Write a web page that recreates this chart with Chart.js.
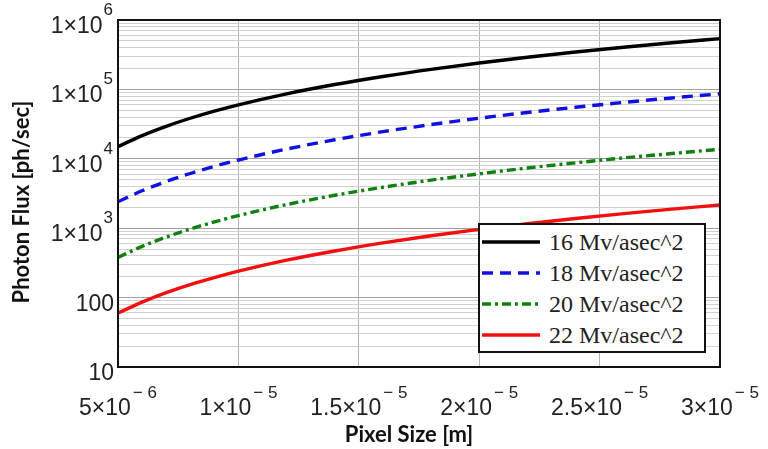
<!DOCTYPE html>
<html>
<head>
<meta charset="utf-8">
<script src="https://cdn.jsdelivr.net/npm/chart.js@4/dist/chart.umd.min.js"></script>
<style>
  body { margin: 0; background: #fff; }
  #wrap { position: relative; width: 768px; height: 449px; }
  #legend {
    position: absolute; left: 478px; top: 223px; width: 224px; height: 126px;
    border: 2px solid #111; background: #fff; box-sizing: content-box;
    font-family: "Liberation Serif", "Times New Roman", serif; font-size: 24px; color: #222;
  }
  #legend .row { position: absolute; left: 0; height: 30px; display: flex; align-items: center; white-space: nowrap; }
  #legend svg { margin-left: 2px; margin-right: 9px; }
</style>
</head>
<body>
<div id="wrap">
  <canvas id="chart" width="768" height="449"></canvas>
  <div id="legend"></div>
</div>
<script>
// pixel size [m]
const pixelSize = [5e-6, 6e-6, 7e-6, 8e-6, 9e-6, 1e-5, 1.2e-5, 1.4e-5, 1.6e-5, 1.8e-5, 2e-5, 2.2e-5, 2.4e-5, 2.6e-5, 2.8e-5, 3e-5];

// photon flux [ph/sec]
const mv16 = [15000, 21600, 29400, 38400, 48600, 60000, 86400, 117600, 153600, 194400, 240000, 290400, 345600, 405600, 470400, 540000];
const mv18 = [2400, 3460, 4700, 6140, 7780, 9600, 13800, 18800, 24600, 31100, 38400, 46500, 55300, 64900, 75300, 86400];
const mv20 = [380, 547, 745, 973, 1230, 1520, 2190, 2980, 3890, 4920, 6080, 7360, 8750, 10300, 11900, 13700];
const mv22 = [60, 86, 118, 154, 194, 240, 346, 470, 614, 778, 960, 1160, 1380, 1620, 1880, 2160];

const seriesNames = ["16 Mv/asec^2", "18 Mv/asec^2", "20 Mv/asec^2", "22 Mv/asec^2"];
const xTitle = "Pixel Size [m]";
const yTitle = "Photon Flux [ph/sec]";

// tick labels: mantissa and exponent
const xTickValues = [5e-6, 1e-5, 1.5e-5, 2e-5, 2.5e-5, 3e-5];
const xTickBase = ["5×10", "1×10", "1.5×10", "2×10", "2.5×10", "3×10"];
const xTickExp = ["− 6", "− 5", "− 5", "− 5", "− 5", "− 5"];
const yDecades = [10, 100, 1000, 10000, 100000, 1000000];
const yTickBase = ["10", "100", "1×10", "1×10", "1×10", "1×10"];
const yTickExp = ["", "", "3", "4", "5", "6"];

const styles = [
  { color: "#000000", dash: [] },
  { color: "#1010e0", dash: [11, 7] },
  { color: "#108010", dash: [9, 4, 3, 4] },
  { color: "#f01010", dash: [] },
];

const allSeries = [mv16, mv18, mv20, mv22];

const datasets = allSeries.map((vals, i) => ({
  label: seriesNames[i],
  data: vals.map((v, j) => ({ x: pixelSize[j], y: v })),
  borderColor: styles[i].color,
  borderDash: styles[i].dash,
  borderWidth: 3.4,
  pointRadius: 0,
  cubicInterpolationMode: "monotone",
  fill: false,
}));

const BASE_FONT = '23px "Liberation Sans", Arial, sans-serif';
const EXP_FONT = '17px "Liberation Sans", Arial, sans-serif';
const TITLE_FONT = 'bold 22px Lato, "Open Sans", sans-serif';

// plot border, power-of-ten tick labels, axis titles
const axisPlugin = {
  id: "axisLabels",
  afterDatasetsDraw(chart) {
    const { ctx, chartArea: a } = chart;
    ctx.save();
    ctx.strokeStyle = "#111";
    ctx.lineWidth = 2;
    ctx.strokeRect(a.left, a.top, a.right - a.left, a.bottom - a.top);
    ctx.restore();
  },
  afterDraw(chart) {
    const { ctx, chartArea: a } = chart;
    const xs = chart.scales.x;
    const ys = chart.scales.y;
    ctx.save();
    ctx.fillStyle = "#222";
    ctx.textBaseline = "alphabetic";

    // y labels, right aligned
    yDecades.forEach((v, i) => {
      const py = ys.getPixelForValue(v);
      ctx.font = EXP_FONT;
      const ew = yTickExp[i] ? ctx.measureText(yTickExp[i]).width : 0;
      const right = yTickExp[i] ? a.left - 5 : a.left - 3;
      ctx.textAlign = "right";
      if (yTickExp[i]) ctx.fillText(yTickExp[i], right, py - 5);
      ctx.font = BASE_FONT;
      ctx.fillText(yTickBase[i], right - ew - 1, py + 13);
    });

    // x labels, centred on tick
    xTickValues.forEach((v, i) => {
      const px = xs.getPixelForValue(v);
      ctx.font = BASE_FONT;
      const bw = ctx.measureText(xTickBase[i]).width;
      ctx.font = EXP_FONT;
      const ew = ctx.measureText(xTickExp[i]).width;
      const left = px - (bw + ew + 2) / 2;
      ctx.textAlign = "left";
      ctx.font = BASE_FONT;
      ctx.fillText(xTickBase[i], left, a.bottom + 48);
      ctx.font = EXP_FONT;
      ctx.fillText(xTickExp[i], left + bw + 2, a.bottom + 31);
    });

    // axis titles
    ctx.fillStyle = "#111";
    ctx.font = TITLE_FONT;
    ctx.textAlign = "center";
    ctx.textBaseline = "middle";
    ctx.fillText(xTitle, 409, 435);
    ctx.translate(22, 202);
    ctx.rotate(-Math.PI / 2);
    ctx.fillText(yTitle, 0, 0);
    ctx.restore();
  },
};

const ctx = document.getElementById("chart").getContext("2d");
const chart = new Chart(ctx, {
  type: "line",
  data: { datasets },
  options: {
    responsive: false,
    animation: false,
    layout: { padding: { top: 20, right: 48, left: 0, bottom: 0 } },
    plugins: { legend: { display: false }, tooltip: { enabled: false } },
    scales: {
      x: {
        type: "linear",
        min: 5e-6,
        max: 3e-5,
        afterBuildTicks(axis) {
          axis.ticks = xTickValues.map((v) => ({ value: v }));
        },
        afterFit(axis) { axis.height = 82; },
        ticks: { display: false },
        grid: { color: "#b4b4b4", lineWidth: 1, drawTicks: false },
        border: { display: false },
      },
      y: {
        type: "logarithmic",
        min: 10,
        max: 1000000,
        afterBuildTicks(axis) {
          const t = [];
          for (let d = 0; d < yDecades.length; d++) {
            t.push({ value: yDecades[d] });
            if (d < yDecades.length - 1) {
              for (let m = 2; m <= 9; m++) t.push({ value: yDecades[d] * m });
            }
          }
          axis.ticks = t;
        },
        afterFit(axis) { axis.width = 118; },
        ticks: { display: false, autoSkip: false },
        grid: {
          drawTicks: false,
          color: (c) => (yDecades.includes(c.tick.value) ? "#a0a0a0" : "#d0d0d0"),
          lineWidth: 1,
        },
        border: { display: false },
      },
    },
  },
  plugins: [axisPlugin],
});

// legend inside the plot, as html text
const legend = document.getElementById("legend");
seriesNames.forEach((name, i) => {
  const row = document.createElement("div");
  row.className = "row";
  row.style.top = (2 + i * 31) + "px";
  const dash = styles[i].dash.join(" ");
  row.innerHTML =
    '<svg width="58" height="10"><line x1="0" y1="5" x2="58" y2="5" stroke="' +
    styles[i].color + '" stroke-width="3.6"' + (dash ? ' stroke-dasharray="' + dash + '"' : "") +
    "/></svg><span>" + name + "</span>";
  legend.appendChild(row);
});
</script>
</body>
</html>
